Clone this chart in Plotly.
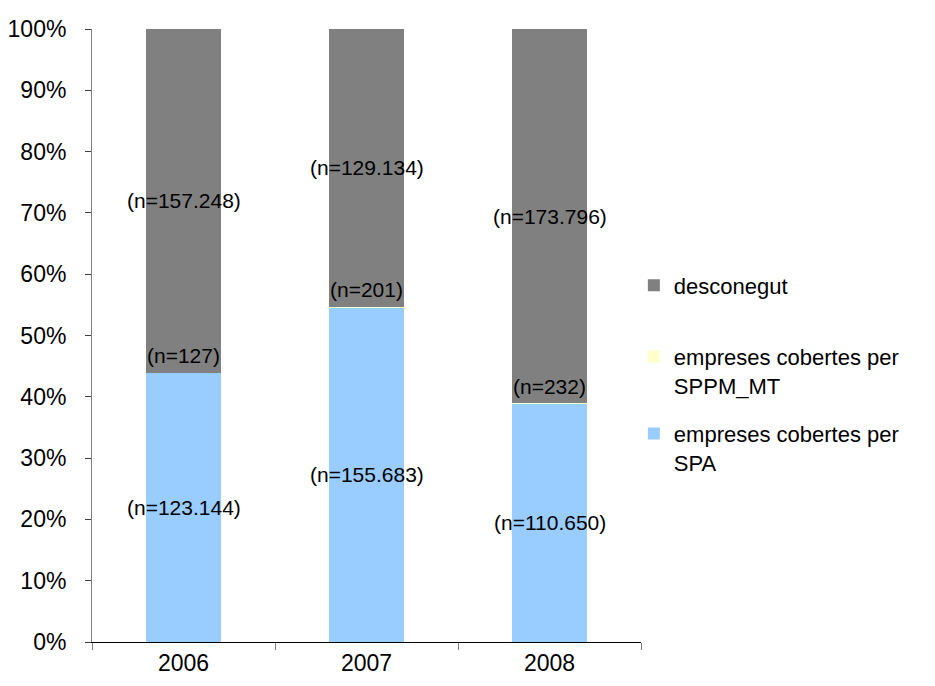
import plotly.graph_objects as go

years = ["2006", "2007", "2008"]
spa = [123144, 155683, 110650]
sppm = [127, 201, 232]
desc = [157248, 129134, 173796]
names = ["empreses cobertes per<br>SPA", "empreses cobertes per<br>SPPM_MT", "desconegut"]
colors = ["#99CCFF", "#FFFFCC", "#808080"]
label_text = [[f"(n={v:,})".replace(",", ".") for v in s] for s in (spa, sppm, desc)]

FONT = "Liberation Sans, Arial, sans-serif"
series = [spa, sppm, desc]
legend_ids = ["legend3", "legend2", "legend"]

fig = go.Figure()
for k, (s, n, c, lg) in enumerate(zip(series, names, colors, legend_ids)):
    fig.add_trace(go.Bar(x=years, y=s, name=n, marker=dict(color=c, line=dict(width=0)),
                         width=0.41, legend=lg, showlegend=True, hoverinfo="skip"))

# data labels at segment midpoints (in percent)
for i, yr in enumerate(years):
    tot = spa[i] + sppm[i] + desc[i]
    base = 0.0
    for k, s in enumerate(series):
        pct = s[i] / tot * 100
        mid = base + pct / 2
        fig.add_annotation(x=i, y=mid, xref="x", yref="y", text=label_text[k][i], showarrow=False,
                           yshift=17 if k == 1 else 0,
                           font=dict(family=FONT, size=21, color="#000000"))
        base += pct

def leg(y):
    return dict(x=0.987, xanchor="left", y=y, yanchor="top", valign="top",
                bgcolor="rgba(0,0,0,0)", font=dict(family=FONT, size=22, color="#000000"))

fig.update_layout(
    barmode="stack", barnorm="percent",
    showlegend=True,
    width=935, height=686,
    margin=dict(l=84, r=302, t=21, b=52, autoexpand=False),
    paper_bgcolor="white", plot_bgcolor="white",
    font=dict(family=FONT, size=21, color="#000000"),
    legend=leg(0.616),
    legend2=leg(0.4995),
    legend3=leg(0.374),
    xaxis=dict(type="category", showline=True, linecolor="#000000", linewidth=1,
               ticks="outside", tickson="boundaries", ticklen=7, tickcolor="#808080",
               tickfont=dict(family=FONT, size=23), showgrid=False, range=[-0.5, 2.5],
               automargin=False),
    yaxis=dict(range=[0, 100], dtick=10, ticksuffix="%", showline=True,
               linecolor="#808080", linewidth=1, ticks="outside", ticklen=6,
               tickcolor="#404040", showgrid=False, zeroline=False,
               ticklabelstandoff=14, automargin=False,
               tickfont=dict(family=FONT, size=23)),
)

fig.write_html("out.html")
